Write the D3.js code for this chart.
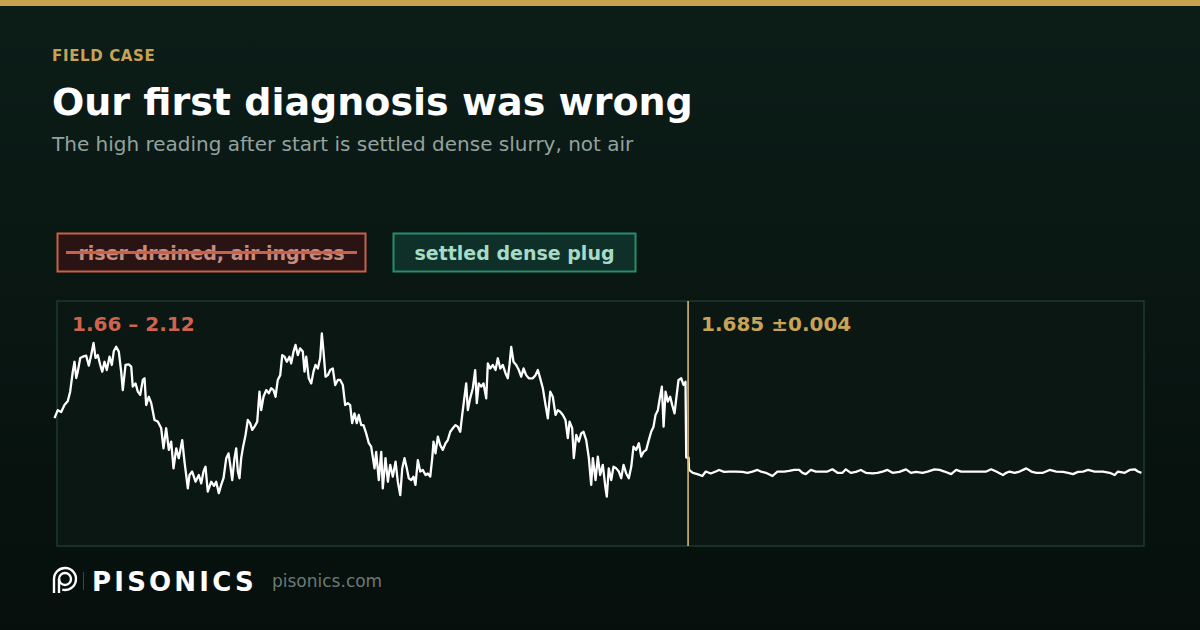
<!DOCTYPE html>
<html><head><meta charset="utf-8">
<script src="https://cdn.jsdelivr.net/npm/d3@7"></script>
<style>
html,body{margin:0;padding:0;background:#08140f;}
svg{display:block;font-family:"DejaVu Sans",sans-serif;}
</style></head>
<body>
<svg id="c" width="1200" height="630"></svg>
<script>
// ---- data ----
const kicker = "FIELD CASE";
const title = "Our first diagnosis was wrong";
const subtitle = "The high reading after start is settled dense slurry, not air";
const hypotheses = ["riser drained, air ingress", "settled dense plug"];
const rangeLabels = ["1.66 \u2013 2.12", "1.685 \u00b10.004"];
const timeDomain = [0, 120];      // seconds
const valueDomain = [1.45, 2.22]; // reading
const breakTime = 70;

// before the break (s, reading)
const preT = [0,0.36,0.74,1.10,1.47,1.73,2.02,2.21,2.40,2.57,2.84,3.12,3.50,3.79,4.05,4.31,4.53,4.78,5.05,5.27,5.52,5.77,6.07,6.33,6.55,6.81,7.10,7.36,7.54,7.84,8.20,8.47,8.64,8.94,9.20,9.46,9.75,9.94,10.12,10.41,10.68,11.04,11.40,11.78,12.03,12.33,12.62,12.88,13.14,13.44,13.72,14.10,14.35,14.72,14.90,15.20,15.57,15.93,16.20,16.45,16.67,16.92,17.30,17.61,
17.85,18.14,18.40,18.66,18.96,19.21,19.40,19.62,19.87,20.06,20.24,20.42,20.61,20.79,21.09,21.34,21.60,21.83,22.08,22.38,22.63,22.82,23.07,23.37,23.66,23.92,24.18,24.40,24.65,24.92,25.14,25.39,25.65,25.94,26.13,26.39,26.61,26.86,27.12,27.41,27.60,27.79,28.07,28.34,28.59,28.81,29.07,29.33,29.51,29.70,29.92,30.17,30.44,30.72,30.99,31.28,31.54,31.83,32.09,32.38,32.64,32.86,33.12,33.37,33.59,33.86,34.11,34.41,34.70,34.96,
35.33,35.51,35.80,36.07,36.24,36.54,36.80,37.06,37.35,37.65,37.90,38.17,38.39,38.64,38.89,39.11,39.38,39.63,39.85,40.11,40.37,40.66,40.96,41.21,41.48,41.70,41.84,42.06,42.32,42.58,42.87,43.17,43.42,43.69,43.97,44.27,44.52,44.79,45.01,45.26,45.45,45.63,45.89,46.18,46.44,46.62,46.84,47.11,47.36,47.66,47.84,48.10,48.39,48.69,48.94,49.21,49.49,49.79,50.04,50.23,50.42,50.67,50.97,51.26,51.52,51.78,52.07,52.36,52.80,
53.10,53.36,53.62,53.91,54.21,54.46,54.73,55.01,55.31,55.56,55.83,56.12,56.41,56.67,56.86,57.15,57.33,57.60,57.88,58.15,58.40,58.70,58.99,59.25,59.43,59.73,59.98,60.24,60.53,60.83,60.97,61.19,61.46,61.71,62.01,62.30,62.56,62.82,63.11,63.40,63.67,63.92,64.22,64.51,64.77,65.03,65.32,65.61,65.87,66.13,66.35,66.61,66.79,67.05,67.24,67.46,67.71,67.97,68.19,68.45,68.64,68.89,69.19,69.44,69.66,69.74,70.00];
const preV = [1.852,1.877,1.871,1.893,1.906,1.935,1.998,2.029,1.978,1.998,2.041,2.045,2.048,2.017,2.050,2.088,2.041,2.050,2.019,1.998,2.029,2.003,2.045,2.019,2.063,2.076,2.061,1.998,1.940,2.019,2.021,2.014,1.951,1.961,1.935,1.925,1.972,1.977,1.893,1.919,1.899,1.846,1.841,1.820,1.757,1.820,1.752,1.778,1.694,1.757,1.726,1.783,1.715,1.631,1.673,1.684,1.652,1.673,1.647,1.684,1.699,1.621,1.652,1.639,
1.652,1.616,1.642,1.663,1.726,1.741,1.705,1.657,1.726,1.757,1.684,1.663,1.726,1.757,1.799,1.846,1.836,1.815,1.825,1.841,1.935,1.877,1.919,1.940,1.930,1.946,1.940,1.919,1.972,1.987,2.050,2.045,2.029,2.045,2.024,2.061,2.082,2.050,2.071,2.061,1.998,2.045,1.977,1.961,1.998,2.019,2.008,2.040,2.118,2.061,1.982,1.987,2.003,2.008,1.956,1.972,1.972,1.956,1.893,1.899,1.893,1.836,1.867,1.836,1.862,1.830,1.830,1.804,1.773,1.762,
1.694,1.746,1.657,1.746,1.631,1.726,1.652,1.705,1.668,1.715,1.652,1.610,1.694,1.726,1.694,1.663,1.657,1.668,1.642,1.720,1.684,1.689,1.673,1.678,1.668,1.726,1.778,1.741,1.794,1.767,1.752,1.773,1.783,1.809,1.820,1.830,1.825,1.809,1.862,1.919,1.961,1.877,1.914,1.946,2.003,1.899,1.961,1.951,1.961,1.914,2.024,2.008,2.019,2.003,2.040,2.008,2.019,1.993,1.977,2.019,2.076,2.029,2.019,2.003,1.982,2.008,1.987,1.977,1.977,
1.987,2.003,1.977,1.946,1.893,1.851,1.935,1.919,1.862,1.877,1.872,1.862,1.846,1.789,1.841,1.820,1.726,1.799,1.778,1.804,1.809,1.783,1.726,1.642,1.726,1.657,1.731,1.673,1.705,1.631,1.605,1.694,1.657,1.699,1.694,1.684,1.663,1.705,1.678,1.663,1.699,1.762,1.752,1.773,1.731,1.746,1.752,1.783,1.809,1.825,1.862,1.877,1.909,1.951,1.825,1.935,1.904,1.919,1.893,1.867,1.914,1.972,1.977,1.956,1.966,1.728,1.728];

// after the break (s, reading)
const postT = [70.05,70.47,70.97,71.52,71.90,72.45,73.00,73.37,73.92,74.47,75.21,75.94,76.50,77.05,77.60,77.98,78.53,79.26,79.81,80.55,81.10,81.65,82.21,82.57,82.94,83.50,84.05,84.78,85.33,85.88,86.44,86.99,87.36,87.91,88.46,89.02,89.57,90.31,90.86,91.41,91.96,92.52,93.26,94.00,94.55,95.10,95.84,96.39,97.15,97.70,98.26,98.99,99.54,100.09,100.82,101.57,102.30,102.86,103.41,103.96,104.70,105.07,105.44,105.99,106.54,107.28,107.84,108.39,109.13,109.86,110.60,111.34,111.89,112.44,112.99,113.54,114.10,114.83,115.38,115.75,116.49,117.04,117.40,118.14,118.70,119.25,119.61,119.99];
const postV = [1.689,1.680,1.676,1.670,1.684,1.678,1.684,1.689,1.683,1.684,1.684,1.683,1.680,1.684,1.689,1.684,1.680,1.670,1.684,1.684,1.686,1.689,1.689,1.680,1.676,1.689,1.684,1.684,1.684,1.691,1.680,1.680,1.691,1.680,1.683,1.689,1.680,1.678,1.680,1.684,1.689,1.680,1.683,1.691,1.680,1.683,1.680,1.684,1.691,1.689,1.684,1.676,1.689,1.684,1.684,1.684,1.684,1.684,1.691,1.684,1.673,1.680,1.684,1.680,1.684,1.694,1.684,1.680,1.680,1.689,1.684,1.683,1.680,1.676,1.683,1.684,1.689,1.684,1.684,1.684,1.680,1.673,1.684,1.680,1.689,1.691,1.684,1.680];

// ---- drawing ----
const W = 1200, H = 630;
const svg = d3.select("#c");
const defs = svg.append("defs");
const g = defs.append("linearGradient").attr("id","bg").attr("x1",0).attr("y1",0).attr("x2",0).attr("y2",1);
g.append("stop").attr("offset","0%").attr("stop-color","#0c1d18");
g.append("stop").attr("offset","100%").attr("stop-color","#060f0c");
svg.append("rect").attr("width",W).attr("height",H).attr("fill","url(#bg)");
svg.append("rect").attr("width",W).attr("height",6).attr("fill","#c9a24f");

svg.append("text").attr("x",52).attr("y",61).text(kicker)
  .attr("fill","#c8a356").attr("font-size",15).attr("font-weight","bold").attr("letter-spacing",0.65);
svg.append("text").attr("x",52).attr("y",115).text(title)
  .attr("fill","#ffffff").attr("font-size",38).attr("font-weight","bold");
svg.append("text").attr("x",52).attr("y",151).text(subtitle)
  .attr("fill","#93a39d").attr("font-size",20);

// hypothesis boxes
const boxes = [
  {x:57.5, w:308, fill:"#2a1413", stroke:"#c9604b", text:"#c98b7d"},
  {x:393.5, w:242, fill:"#0f3028", stroke:"#2b8b6d", text:"#a6dcc7"}
];
boxes.forEach((b,i)=>{
  svg.append("rect").attr("x",b.x).attr("y",233.5).attr("width",b.w).attr("height",38)
    .attr("fill",b.fill).attr("stroke",b.stroke).attr("stroke-width",2);
  svg.append("text").attr("x",b.x+b.w/2).attr("y",259.5).attr("text-anchor","middle")
    .attr("fill",b.text).attr("font-size",19).attr("font-weight","bold").text(hypotheses[i]);
});
svg.append("line").attr("x1",66).attr("x2",357).attr("y1",252.5).attr("y2",252.5)
  .attr("stroke","#c9604b").attr("stroke-width",3);

// chart frame
const frame = {x:57, y:301, w:1087, h:245};
svg.append("rect").attr("x",frame.x).attr("y",frame.y).attr("width",frame.w).attr("height",frame.h)
  .attr("fill","#0a1713").attr("stroke","#1d3a30").attr("stroke-width",1.5);

const x = d3.scaleLinear().domain(timeDomain).range([54.5, 1141.5]);
const y = d3.scaleLinear().domain(valueDomain).range([546, 301]);

const pts = preT.map((t,i)=>[t,preV[i]]).concat(postT.map((t,i)=>[t,postV[i]]));
const line = d3.line().x(d=>x(d[0])).y(d=>y(d[1]));
svg.append("path").attr("d",line(pts)).attr("fill","none")
  .attr("stroke","#ffffff").attr("stroke-width",2.3).attr("stroke-linejoin","round");

svg.append("line").attr("x1",x(breakTime)-0.5).attr("x2",x(breakTime)-0.5).attr("y1",frame.y).attr("y2",frame.y+frame.h)
  .attr("stroke","#d6b679").attr("stroke-width",1.6);

svg.append("text").attr("x",72).attr("y",331).text(rangeLabels[0])
  .attr("fill","#d0634d").attr("font-size",20).attr("font-weight","bold");
svg.append("text").attr("x",701).attr("y",331).text(rangeLabels[1])
  .attr("fill","#c8a356").attr("font-size",20).attr("font-weight","bold");

// footer logo
const lg = svg.append("g").attr("fill","none").attr("stroke","#ffffff").attr("stroke-width",2.4);
const cx = 65, cy = 579;
lg.append("path").attr("d", d3.arc()({innerRadius:11, outerRadius:11, startAngle:-Math.PI/2, endAngle:Math.PI*1.08}))
  .attr("transform",`translate(${cx},${cy})`);
lg.append("line").attr("x1",cx-11).attr("x2",cx-11).attr("y1",cy).attr("y2",cy+14);
lg.append("path").attr("d", d3.arc()({innerRadius:6, outerRadius:6, startAngle:-Math.PI/2, endAngle:Math.PI*1.5}))
  .attr("transform",`translate(${cx},${cy})`);
lg.append("line").attr("x1",cx-6).attr("x2",cx-6).attr("y1",cy).attr("y2",cy+14);
svg.append("line").attr("x1",83.5).attr("x2",83.5).attr("y1",572).attr("y2",590).attr("stroke","#3a4844").attr("stroke-width",1);
svg.append("text").attr("x",92).attr("y",591).text("PISONICS")
  .attr("fill","#ffffff").attr("font-size",26).attr("font-weight","bold").attr("letter-spacing",3.2);
svg.append("text").attr("x",272).attr("y",587).text("pisonics.com")
  .attr("fill","#6b7a75").attr("font-size",17);
</script>
</body></html>
